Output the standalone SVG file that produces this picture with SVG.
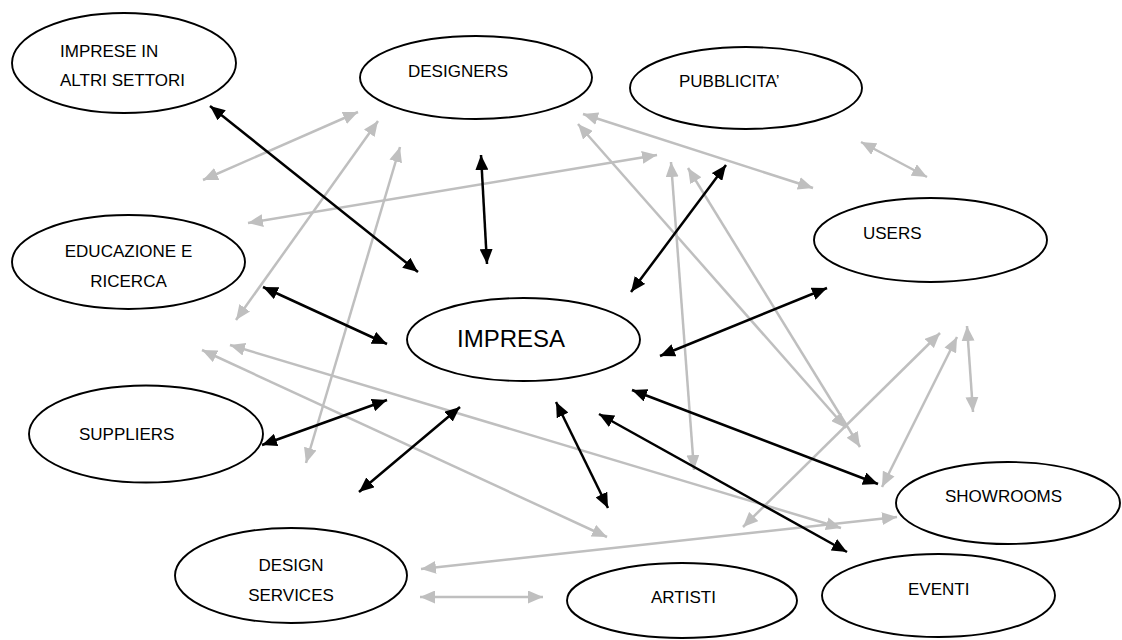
<svg xmlns="http://www.w3.org/2000/svg" width="1122" height="640" viewBox="0 0 1122 640">
  <defs>
    <marker id="headBlack" markerUnits="userSpaceOnUse" markerWidth="15" markerHeight="13" refX="15" refY="6.5" orient="auto-start-reverse">
      <path d="M0,0 L15,6.5 L0,13 Z" fill="#000"/>
    </marker>
    <marker id="headGray" markerUnits="userSpaceOnUse" markerWidth="15" markerHeight="13" refX="15" refY="6.5" orient="auto-start-reverse">
      <path d="M0,0 L15,6.5 L0,13 Z" fill="#bfbfbf"/>
    </marker>
  </defs>
  <style>
    .node ellipse { fill: #fff; stroke: #000; stroke-width: 1.9; }
    .node text { font-family: "Liberation Sans", Arial, sans-serif; font-size: 17px; fill: #000; }
    .node text.big { font-size: 24px; }
    .link { fill: none; stroke-width: 2.5; }
    .black { stroke: #000; marker-start: url(#headBlack); marker-end: url(#headBlack); }
    .gray { stroke: #bfbfbf; marker-start: url(#headGray); marker-end: url(#headGray); }
  </style>
  <rect width="1122" height="640" fill="#fff"/>

  <g id="connectors">
    <!-- relations of the other actors among themselves -->
    <line class="link gray" x1="203" y1="180" x2="358" y2="112"/>
    <line class="link gray" x1="236" y1="320" x2="378" y2="121"/>
    <line class="link gray" x1="306" y1="463" x2="400" y2="147"/>
    <line class="link gray" x1="248" y1="223" x2="657" y2="155"/>
    <line class="link gray" x1="583" y1="114" x2="813" y2="188"/>
    <line class="link gray" x1="578" y1="124" x2="846" y2="428"/>
    <line class="link gray" x1="671" y1="162" x2="694" y2="470"/>
    <line class="link gray" x1="688" y1="168" x2="860" y2="447"/>
    <line class="link gray" x1="861" y1="142" x2="927" y2="177"/>
    <line class="link gray" x1="743" y1="527" x2="940" y2="333"/>
    <line class="link gray" x1="882" y1="487" x2="957" y2="337"/>
    <line class="link gray" x1="967" y1="326" x2="973" y2="412"/>
    <line class="link gray" x1="202" y1="350" x2="607" y2="537"/>
    <line class="link gray" x1="230" y1="345" x2="841" y2="528"/>
    <line class="link gray" x1="421" y1="569" x2="897" y2="517"/>
    <line class="link gray" x1="420" y1="597" x2="543" y2="597"/>

    <!-- relations with the company -->
    <line class="link black" x1="210" y1="106" x2="418" y2="272"/>
    <line class="link black" x1="481" y1="155" x2="487" y2="264"/>
    <line class="link black" x1="726" y1="165" x2="631" y2="292"/>
    <line class="link black" x1="263" y1="287" x2="387" y2="344"/>
    <line class="link black" x1="827" y1="288" x2="660" y2="356"/>
    <line class="link black" x1="262" y1="445" x2="387" y2="400"/>
    <line class="link black" x1="359" y1="492" x2="460" y2="407"/>
    <line class="link black" x1="556" y1="402" x2="608" y2="508"/>
    <line class="link black" x1="632" y1="390" x2="878" y2="484"/>
    <line class="link black" x1="599" y1="414" x2="847" y2="552"/>
  </g>

  <g id="imprese-altri-settori" class="node">
    <ellipse cx="124" cy="63" rx="112" ry="50"/>
    <text x="60" y="57">IMPRESE IN</text>
    <text x="60" y="86">ALTRI SETTORI</text>
  </g>
  <g id="designers" class="node">
    <ellipse cx="476" cy="77.5" rx="116" ry="41.5"/>
    <text x="408" y="77">DESIGNERS</text>
  </g>
  <g id="pubblicita" class="node">
    <ellipse cx="746" cy="88" rx="116" ry="41"/>
    <text x="679" y="87">PUBBLICITA’</text>
  </g>
  <g id="users" class="node">
    <ellipse cx="930.5" cy="240" rx="116.5" ry="42"/>
    <text x="863" y="239">USERS</text>
  </g>
  <g id="educazione-ricerca" class="node">
    <ellipse cx="128.5" cy="262" rx="116.5" ry="47"/>
    <text x="128.5" y="257" text-anchor="middle">EDUCAZIONE E</text>
    <text x="128.5" y="287" text-anchor="middle">RICERCA</text>
  </g>
  <g id="impresa" class="node">
    <ellipse cx="523.5" cy="339.5" rx="116.5" ry="41.5"/>
    <text class="big" x="457" y="347">IMPRESA</text>
  </g>
  <g id="suppliers" class="node">
    <ellipse cx="146" cy="434" rx="117" ry="48.5"/>
    <text x="79" y="440">SUPPLIERS</text>
  </g>
  <g id="design-services" class="node">
    <ellipse cx="291" cy="575.5" rx="116" ry="47.5"/>
    <text x="291" y="571" text-anchor="middle">DESIGN</text>
    <text x="291" y="601" text-anchor="middle">SERVICES</text>
  </g>
  <g id="artisti" class="node">
    <ellipse cx="682" cy="600.5" rx="115" ry="37.5"/>
    <text x="651" y="603">ARTISTI</text>
  </g>
  <g id="showrooms" class="node">
    <ellipse cx="1008" cy="503" rx="112" ry="41"/>
    <text x="945" y="502">SHOWROOMS</text>
  </g>
  <g id="eventi" class="node">
    <ellipse cx="938.5" cy="595.5" rx="116.5" ry="41.5"/>
    <text x="908" y="595">EVENTI</text>
  </g>
</svg>
